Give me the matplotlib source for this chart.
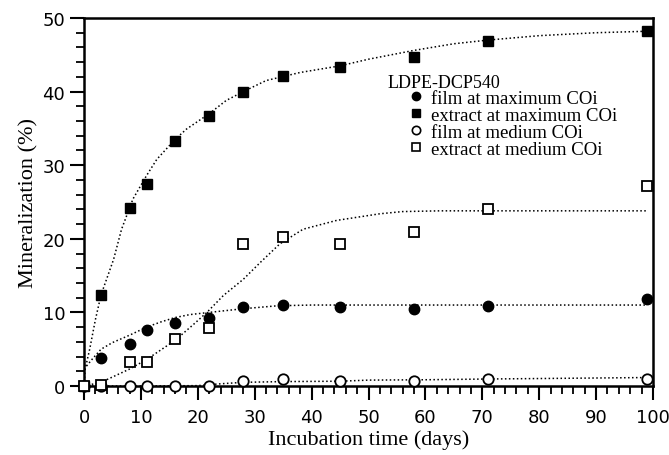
import matplotlib
matplotlib.use("Agg")
import matplotlib.pyplot as plt
from matplotlib.lines import Line2D
from matplotlib.ticker import MultipleLocator

plt.rcParams['font.family'] = ['Liberation Serif', 'DejaVu Serif']

# measured points
days = [0, 3, 8, 11, 16, 22, 28, 35, 45, 58, 71, 99]
film_max = [0, 3.8, 5.7, 7.6, 8.6, 9.2, 10.7, 11.0, 10.7, 10.5, 10.9, 11.8]
extract_max = [0, 12.4, 24.2, 27.4, 33.3, 36.7, 40.0, 42.1, 43.3, 44.7, 46.9, 48.2]
film_med = [0, 0, 0, 0, 0, 0, 0.7, 0.95, 0.7, 0.7, 0.95, 0.95]
extract_med = [0, 0.1, 3.3, 3.3, 6.4, 7.9, 19.3, 20.2, 19.3, 20.9, 24.1, 27.2]

# fitted curves
fit_ext_max_x = [0, 0.2, 1, 2, 3, 5.2, 6.6, 8.6, 11, 12.8, 16, 18, 22, 25, 28, 32, 38, 45, 50, 58, 65, 71, 80, 90, 99]
fit_ext_max_y = [0, 2.3, 5.0, 9.0, 12.4, 17.2, 21.3, 25.4, 28.6, 30.8, 33.5, 34.9, 37.0, 38.8, 40.0, 41.5, 42.6, 43.5, 44.4, 45.6, 46.5, 47.0, 47.6, 48.0, 48.2]
fit_film_max_x = [0, 1.5, 3, 5, 8, 11, 13.5, 16, 18.6, 22, 28, 34, 40, 60, 80, 99]
fit_film_max_y = [2.3, 3.7, 5.0, 5.9, 6.9, 8.0, 8.7, 9.3, 9.7, 10.0, 10.5, 10.9, 11.0, 11.0, 11.0, 11.0]
fit_ext_med_x = [0, 3, 8, 11, 16, 19, 21.6, 24.5, 28, 31, 34.4, 38.5, 44.4, 52, 56, 62.6, 80, 99]
fit_ext_med_y = [0, 0.5, 2.3, 3.6, 6.2, 8.2, 10.0, 12.3, 14.5, 16.8, 19.3, 21.3, 22.5, 23.4, 23.7, 23.8, 23.8, 23.8]
fit_film_med_x = [0, 10, 20, 24, 28, 35, 45, 50, 60, 71, 85, 99]
fit_film_med_y = [0, 0, 0.05, 0.3, 0.5, 0.6, 0.65, 0.8, 0.85, 0.95, 1.05, 1.15]

labels = ['film at maximum COi', 'extract at maximum COi',
          'film at medium COi', 'extract at medium COi']

W, H = 669, 456
fig = plt.figure(figsize=(W / 100, H / 100), dpi=100)
ax = fig.add_axes([84 / W, 1 - 387 / H, (653 - 84) / W, (387 - 19) / H])

dot = (0, (1, 1.6))
for fx, fy in [(fit_ext_max_x, fit_ext_max_y), (fit_film_max_x, fit_film_max_y),
               (fit_ext_med_x, fit_ext_med_y), (fit_film_med_x, fit_film_med_y)]:
    ax.plot(fx, fy, color='black', lw=1.1, linestyle=dot, zorder=2)

ms = 7.5
ax.plot(days, film_max, 'o', ms=ms, mfc='black', mec='black', clip_on=False, zorder=4)
ax.plot(days, extract_max, 's', ms=ms, mfc='black', mec='black', clip_on=False, zorder=4)
ax.plot(days, film_med, 'o', ms=ms, mfc='white', mec='black', mew=1.3, clip_on=False, zorder=4)
ax.plot(days, extract_med, 's', ms=ms, mfc='white', mec='black', mew=1.3, clip_on=False, zorder=4)

ax.set_xlim(0, 100)
ax.set_ylim(0, 50)
ax.xaxis.set_major_locator(MultipleLocator(10))
ax.xaxis.set_minor_locator(MultipleLocator(2))
ax.yaxis.set_major_locator(MultipleLocator(10))
ax.yaxis.set_minor_locator(MultipleLocator(2))
ax.tick_params(which='major', length=10, width=1.5, direction='out', labelsize=13)
ax.tick_params(which='minor', length=6, width=1.3, direction='out')
ax.tick_params(axis='x', pad=6)
for s in ax.spines.values():
    s.set_linewidth(1.8)
for lab in ax.get_xticklabels() + ax.get_yticklabels():
    lab.set_family(['Liberation Sans Narrow', 'DejaVu Sans'])

ax.set_xlabel('Incubation time (days)', fontsize=16, labelpad=2)
ax.set_ylabel('Mineralization (%)', fontsize=16, labelpad=3)

fig.text(388 / W, 1 - 83 / H, 'LDPE-DCP540', fontsize=13, ha='left', va='center')
handles = [Line2D([], [], ls='none', marker='o', ms=6, mfc='black', mec='black'),
           Line2D([], [], ls='none', marker='s', ms=6, mfc='black', mec='black'),
           Line2D([], [], ls='none', marker='o', ms=6, mfc='white', mec='black', mew=1.2),
           Line2D([], [], ls='none', marker='s', ms=6, mfc='white', mec='black', mew=1.2)]
fig.legend(handles, labels, loc='upper left', bbox_to_anchor=(408 / W, 1 - 90.5 / H),
           frameon=False, fontsize=13.5, handlelength=0.8, handletextpad=0.45,
           borderpad=0, borderaxespad=0, labelspacing=0)

fig.savefig('out.png', dpi=100)
